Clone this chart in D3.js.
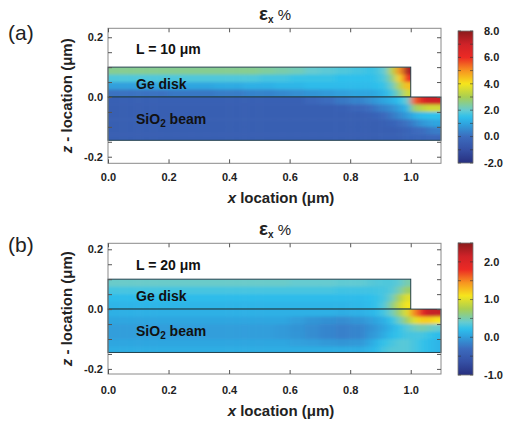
<!DOCTYPE html>
<html>
<head>
<meta charset="utf-8">
<script src="https://cdn.jsdelivr.net/npm/d3@7"></script>
<style>
  body { margin: 0; background: #fff; }
  svg { display: block; }
</style>
</head>
<body>
<div id="chart"></div>
<script>
const width = 507;
const height = 423;

// sample grid (µm): columns are coarse up to 0.85, finer near the disk edge
const geColEdges = [0,0.05,0.1,0.15,0.2,0.25,0.3,0.35,0.4,0.45,0.5,0.55,0.6,0.65,0.7,0.75,0.8,0.85,
                    0.875,0.9,0.925,0.95,0.975,1.0];
const beamColEdges = [0,0.05,0.1,0.15,0.2,0.25,0.3,0.35,0.4,0.45,0.5,0.55,0.6,0.65,0.7,0.75,0.8,0.85,
                      0.875,0.9,0.925,0.95,0.975,1.0,1.025,1.05,1.075,1.1];
const geRowEdges = [0.1, 0.075, 0.05, 0.025, 0];
const beamRowEdges = [0, -0.025, -0.05, -0.075, -0.1, -0.125, -0.145];

// strain field (εx %); rows go top -> bottom
const geRowsA = [
  [2.5,2.5,2.5,2.5,2.5,2.5,2.5,2.5,2.5,2.5,2.4,2.3,2.2,2.0,1.9,1.8,1.7, 1.6,1.7,2.0,3.2,5.0,7.5],
  [1.8,1.8,1.8,1.8,1.8,1.8,1.8,1.8,1.8,1.8,1.7,1.7,1.6,1.6,1.6,1.5,1.5, 1.5,1.6,1.8,2.6,4.2,6.0],
  [0.9,0.9,0.9,1.0,1.0,1.0,1.0,1.1,1.1,1.2,1.2,1.3,1.3,1.4,1.4,1.4,1.4, 1.4,1.5,1.6,2.1,3.2,4.5],
  [0.1,0.1,0.1,0.1,0.2,0.2,0.2,0.3,0.3,0.4,0.4,0.5,0.6,0.7,0.8,0.9,1.0, 1.0,1.1,1.3,1.7,2.4,3.5]
];
const beamRowsA = [
  [-0.4,-0.4,-0.4,-0.4,-0.4,-0.4,-0.4,-0.4,-0.4,-0.4,-0.4,-0.4,-0.4,-0.2,0.0,0.2,0.4, 0.6,0.8,1.0,1.2,1.5,2.0, 5.5,6.5,7.0,7.0],
  [-0.5,-0.5,-0.5,-0.5,-0.5,-0.5,-0.5,-0.5,-0.5,-0.5,-0.5,-0.5,-0.5,-0.5,-0.5,-0.4,-0.2, 0.0,0.2,0.4,0.6,0.9,1.3, 2.8,3.2,3.5,3.5],
  [-0.5,-0.5,-0.5,-0.5,-0.5,-0.5,-0.5,-0.5,-0.5,-0.5,-0.5,-0.5,-0.5,-0.5,-0.5,-0.5,-0.5, -0.4,-0.3,-0.1,0.2,0.5,0.8, 1.2,1.4,1.5,1.5],
  [-0.5,-0.5,-0.5,-0.5,-0.5,-0.5,-0.5,-0.5,-0.5,-0.5,-0.5,-0.5,-0.5,-0.5,-0.5,-0.5,-0.5, -0.5,-0.5,-0.4,-0.3,-0.1,0.1, 0.4,0.7,0.9,1.0],
  [-0.5,-0.5,-0.5,-0.5,-0.5,-0.5,-0.5,-0.5,-0.5,-0.5,-0.5,-0.5,-0.5,-0.5,-0.5,-0.5,-0.5, -0.5,-0.5,-0.5,-0.5,-0.4,-0.3, -0.1,0.0,0.2,0.3],
  [-0.5,-0.5,-0.5,-0.5,-0.5,-0.5,-0.5,-0.5,-0.5,-0.5,-0.5,-0.5,-0.5,-0.5,-0.5,-0.5,-0.5, -0.5,-0.5,-0.4,-0.4,-0.4,-0.3, -0.3,-0.3,-0.2,-0.2]
];
const geRowsB = [
  [0.42,0.42,0.42,0.42,0.42,0.42,0.42,0.42,0.42,0.42,0.42,0.42,0.4,0.4,0.4,0.38,0.38, 0.36,0.34,0.33,0.33,0.38,0.5],
  [0.3,0.3,0.3,0.3,0.3,0.3,0.3,0.3,0.3,0.3,0.3,0.3,0.3,0.3,0.3,0.28,0.28, 0.28,0.29,0.3,0.35,0.5,0.7],
  [0.2,0.2,0.2,0.2,0.2,0.2,0.2,0.2,0.2,0.2,0.2,0.2,0.2,0.2,0.2,0.2,0.2, 0.22,0.25,0.3,0.45,0.75,1.0],
  [0.15,0.15,0.15,0.15,0.15,0.15,0.15,0.15,0.15,0.15,0.15,0.15,0.15,0.15,0.15,0.15,0.17, 0.2,0.25,0.35,0.6,0.9,1.1]
];
const beamRowsB = [
  [0.12,0.12,0.12,0.12,0.12,0.12,0.12,0.12,0.12,0.12,0.12,0.12,0.12,0.12,0.12,0.1,0.12, 0.15,0.2,0.3,0.45,0.7,1.0, 1.5,1.9,2.2,2.2],
  [0.05,0.05,0.05,0.05,0.05,0.05,0.05,0.05,0.05,0.05,0.05,0.05,0.0,-0.05,-0.08,-0.1,-0.05, 0.0,0.05,0.12,0.25,0.45,0.7, 1.0,1.2,1.2,1.1],
  [0.0,0.0,0.0,0.0,0.0,0.0,0.0,0.0,0.0,0.0,0.0,-0.02,-0.06,-0.1,-0.15,-0.18,-0.15, -0.08,-0.02,0.05,0.15,0.25,0.35, 0.45,0.5,0.45,0.4],
  [0.0,0.0,0.0,0.0,0.0,0.0,0.0,0.0,0.0,0.0,0.0,-0.02,-0.05,-0.1,-0.15,-0.18,-0.15, -0.05,0.0,0.1,0.2,0.25,0.3, 0.3,0.3,0.25,0.2],
  [0.05,0.05,0.05,0.05,0.05,0.05,0.05,0.05,0.05,0.05,0.05,0.05,0.02,0.0,-0.03,-0.05,-0.03, 0.05,0.15,0.25,0.3,0.35,0.35, 0.3,0.25,0.2,0.15],
  [0.1,0.1,0.1,0.1,0.1,0.1,0.1,0.1,0.1,0.1,0.1,0.1,0.1,0.1,0.1,0.1,0.1, 0.15,0.2,0.3,0.35,0.35,0.35, 0.3,0.25,0.2,0.15]
];

const xTicks = [0, 0.2, 0.4, 0.6, 0.8, 1.0];
const zTicks = [-0.2, 0, 0.2];
const zMinorTicks = [-0.2, -0.15, -0.1, -0.05, 0, 0.05, 0.1, 0.15, 0.2];
const cbTicksA = [-2, 0, 2, 4, 6, 8];
const cbTicksB = [-1, 0, 1, 2];
const cbMinorA = [-2, -1, 0, 1, 2, 3, 4, 5, 6, 7, 8];
const cbMinorB = [-1, -0.5, 0, 0.5, 1, 1.5, 2, 2.5];
const panelLabels = ["(a)", "(b)"];
const lengthLabels = ["L = 10 μm", "L = 20 μm"];

const xMax = 1.1;

// jet-like colour map, position 0..1
const cmapPos = [0, 0.1, 0.2, 0.3, 0.35, 0.4, 0.5, 0.6, 0.7, 0.8, 0.9, 1];
const cmapColors = ["#27307f", "#3550a5", "#3b6cbe", "#2fa6e0", "#2ec0ec", "#66cbd0",
                    "#a8cf52", "#f6e51c", "#f79420", "#ec2a24", "#cf2228", "#8a1a1c"];

const font = "Arial, 'Liberation Sans', sans-serif";

const svg = d3.select("#chart")
  .append("svg")
  .attr("width", width)
  .attr("height", height)
  .style("font-family", font);

const defs = svg.append("defs");
defs.append("filter")
  .attr("id", "smooth")
  .attr("x", "-20%").attr("y", "-20%")
  .attr("width", "140%").attr("height", "140%")
  .append("feGaussianBlur")
  .attr("stdDeviation", "3 1.8");

const panels = [
  { top: 28.3, bottom: 163.3, zDom: [-0.222, 0.23], cbDom: [-2, 8], cbTop: 31, cbBottom: 163,
    cbTicks: cbTicksA, cbMinor: cbMinorA, ge: geRowsA, beam: beamRowsA,
    titleY: 20, labelY: 40, lY: 54, geY: 89, sioY: 124, xTickY: 182, xTitleY: 203 },
  { top: 243.3, bottom: 374, zDom: [-0.217, 0.22], cbDom: [-1, 2.5], cbTop: 243, cbBottom: 375,
    cbTicks: cbTicksB, cbMinor: cbMinorB, ge: geRowsB, beam: beamRowsB,
    titleY: 235, labelY: 252, lY: 270, geY: 301, sioY: 336, xTickY: 395, xTitleY: 416 }
];

panels.forEach((p, pi) => {
  const xs = d3.scaleLinear().domain([0, xMax]).range([108, 441]);
  const zs = d3.scaleLinear().domain(p.zDom).range([p.bottom, p.top]);
  const span = p.cbDom[1] - p.cbDom[0];
  const color = d3.scaleLinear()
    .domain(cmapPos.map(t => p.cbDom[0] + t * span))
    .range(cmapColors)
    .clamp(true);

  const g = svg.append("g");

  // field regions: Ge disk and SiO2 beam
  const regions = [
    { id: "ge" + pi, rows: p.ge, cols: geColEdges, zEdges: geRowEdges },
    { id: "beam" + pi, rows: p.beam, cols: beamColEdges, zEdges: beamRowEdges }
  ];

  regions.forEach(r => {
    const x0 = xs(r.cols[0]), x1 = xs(r.cols[r.cols.length - 1]);
    const y0 = zs(r.zEdges[0]), y1 = zs(r.zEdges[r.zEdges.length - 1]);

    defs.append("clipPath").attr("id", r.id + "-clip")
      .append("rect")
      .attr("x", x0).attr("y", y0)
      .attr("width", x1 - x0).attr("height", y1 - y0);

    const cells = [];
    r.rows.forEach((row, ri) => {
      row.forEach((v, ci) => cells.push({ v, ri, ci }));
    });

    // edge cells are stretched past the outline so the blur does not fade at the border
    const pad = 10;
    const nr = r.rows.length, nc = r.cols.length - 1;
    const cx0 = d => xs(r.cols[d.ci]) - (d.ci === 0 ? pad : 0);
    const cx1 = d => xs(r.cols[d.ci + 1]) + (d.ci === nc - 1 ? pad : 0.5);
    const cy0 = d => zs(r.zEdges[d.ri]) - (d.ri === 0 ? pad : 0);
    const cy1 = d => zs(r.zEdges[d.ri + 1]) + (d.ri === nr - 1 ? pad : 0.5);

    g.append("g")
      .attr("clip-path", `url(#${r.id}-clip)`)
      .append("g")
      .attr("filter", "url(#smooth)")
      .selectAll("rect")
      .data(cells)
      .join("rect")
      .attr("x", cx0)
      .attr("y", cy0)
      .attr("width", d => cx1(d) - cx0(d))
      .attr("height", d => cy1(d) - cy0(d))
      .attr("fill", d => color(d.v));

    g.append("rect")
      .attr("x", x0).attr("y", y0)
      .attr("width", x1 - x0).attr("height", y1 - y0)
      .attr("fill", "none")
      .attr("stroke", "#22404c")
      .attr("stroke-width", 1);
  });

  // frame + axes (ticks point inward)
  g.append("rect")
    .attr("x", xs(0)).attr("y", p.top)
    .attr("width", xs(xMax) - xs(0)).attr("height", p.bottom - p.top)
    .attr("fill", "none").attr("stroke", "#8a8a8a").attr("stroke-width", 1);

  const fmt = d => d.toFixed(1);
  const isMajor = d => zTicks.some(t => Math.abs(t - d) < 1e-9);

  const axB = g.append("g").attr("transform", `translate(0,${p.bottom})`)
    .call(d3.axisBottom(xs).tickValues(xTicks).tickSizeInner(-4).tickSizeOuter(0)
      .tickPadding(p.xTickY - p.bottom - 9).tickFormat(fmt));
  const axT = g.append("g").attr("transform", `translate(0,${p.top})`)
    .call(d3.axisTop(xs).tickValues(xTicks).tickSizeInner(-4).tickSizeOuter(0).tickFormat(""));
  const axL = g.append("g").attr("transform", `translate(${xs(0)},0)`)
    .call(d3.axisLeft(zs).tickValues(zMinorTicks).tickSizeInner(-4).tickSizeOuter(0)
      .tickPadding(5).tickFormat(d => isMajor(d) ? fmt(d) : ""));
  const axR = g.append("g").attr("transform", `translate(${xs(xMax)},0)`)
    .call(d3.axisRight(zs).tickValues(zMinorTicks).tickSizeInner(-4).tickSizeOuter(0).tickFormat(""));

  [axB, axT, axL, axR].forEach(a => {
    a.select(".domain").remove();
    a.selectAll(".tick line").attr("stroke", "#555");
    a.selectAll(".tick text")
      .attr("font-family", font)
      .attr("font-size", 11)
      .attr("font-weight", "bold")
      .attr("fill", "#222");
  });

  // axis titles
  const xt = g.append("text")
    .attr("x", 281).attr("y", p.xTitleY)
    .attr("text-anchor", "middle")
    .attr("font-size", 15).attr("font-weight", "bold").attr("fill", "#222");
  xt.append("tspan").attr("font-style", "italic").text("x");
  xt.append("tspan").text(" location (μm)");

  const zt = g.append("text")
    .attr("transform", `translate(72,${(p.top + p.bottom) / 2}) rotate(-90)`)
    .attr("text-anchor", "middle")
    .attr("font-size", 15).attr("font-weight", "bold").attr("fill", "#222");
  zt.append("tspan").attr("font-style", "italic").text("z");
  zt.append("tspan").text(" - location (μm)");

  // title εx %
  const tt = g.append("text")
    .attr("x", 259).attr("y", p.titleY)
    .attr("fill", "#222");
  tt.append("tspan").attr("font-size", 19).attr("font-weight", "bold").text("ε");
  tt.append("tspan").attr("font-size", 10).attr("font-weight", "bold").attr("dy", 3).text("x");
  tt.append("tspan").attr("font-size", 15).attr("dy", -3).text(" %");

  // panel label
  g.append("text")
    .attr("x", 8).attr("y", p.labelY)
    .attr("font-size", 21).attr("fill", "#222")
    .text(panelLabels[pi]);

  // annotations inside the plot
  g.append("text")
    .attr("x", 136).attr("y", p.lY)
    .attr("font-size", 14).attr("font-weight", "bold").attr("fill", "#111")
    .text(lengthLabels[pi]);
  g.append("text")
    .attr("x", 136).attr("y", p.geY)
    .attr("font-size", 14).attr("font-weight", "bold").attr("fill", "#111")
    .text("Ge disk");
  const st = g.append("text")
    .attr("x", 136).attr("y", p.sioY)
    .attr("font-size", 14).attr("font-weight", "bold").attr("fill", "#111");
  st.append("tspan").text("SiO");
  st.append("tspan").attr("font-size", 10).attr("dy", 3).text("2");
  st.append("tspan").attr("dy", -3).text(" beam");

  // colour bar
  const cbScale = d3.scaleLinear().domain(p.cbDom).range([p.cbBottom, p.cbTop]);
  const gradId = "cbgrad" + pi;
  defs.append("linearGradient")
    .attr("id", gradId)
    .attr("x1", 0).attr("y1", 1).attr("x2", 0).attr("y2", 0)
    .selectAll("stop")
    .data(d3.range(0, 1.0001, 0.02))
    .join("stop")
    .attr("offset", t => t)
    .attr("stop-color", t => color(p.cbDom[0] + t * span));

  const cbX = 458, cbW = 15;
  g.append("rect")
    .attr("x", cbX).attr("y", p.cbTop)
    .attr("width", cbW).attr("height", p.cbBottom - p.cbTop)
    .attr("fill", `url(#${gradId})`)
    .attr("stroke", "#777").attr("stroke-width", 0.8);

  g.append("g")
    .selectAll("line")
    .data(p.cbMinor.flatMap(v => [{ v, side: 0 }, { v, side: 1 }]))
    .join("line")
    .attr("x1", d => d.side === 0 ? cbX : cbX + cbW - 3)
    .attr("x2", d => d.side === 0 ? cbX + 3 : cbX + cbW)
    .attr("y1", d => cbScale(d.v))
    .attr("y2", d => cbScale(d.v))
    .attr("stroke", "#333")
    .attr("stroke-opacity", 0.6)
    .attr("stroke-width", 1);

  g.append("g")
    .selectAll("text")
    .data(p.cbTicks)
    .join("text")
    .attr("x", 484)
    .attr("y", d => cbScale(d))
    .attr("dy", "0.35em")
    .attr("font-size", 11).attr("font-weight", "bold").attr("fill", "#222")
    .text(fmt);
});
</script>
</body>
</html>
